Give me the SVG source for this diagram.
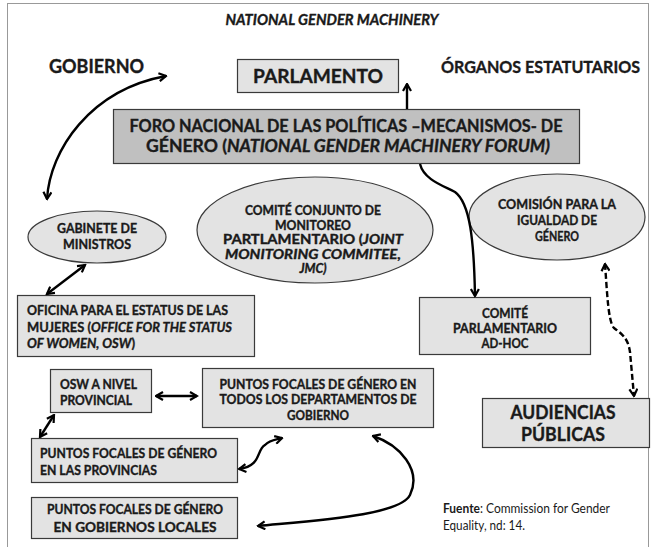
<svg xmlns="http://www.w3.org/2000/svg" width="654" height="547" viewBox="0 0 654 547">
<defs>
<marker id="ah" viewBox="0 0 10 10" refX="8.5" refY="5" markerWidth="10" markerHeight="10" markerUnits="userSpaceOnUse" orient="auto-start-reverse">
<path d="M1.5,1 L8.5,5 L1.5,9" fill="none" stroke="#000" stroke-width="2.2" stroke-linejoin="miter"/>
</marker>
<style>
.t{font-family:Lato,"Liberation Sans",sans-serif;font-weight:bold;fill:#1a1a1a;stroke:#1a1a1a;stroke-width:0.35}
.m{text-anchor:middle}
.i{font-style:italic}
.box{fill:#e3e3e3;stroke:#3a3a3a;stroke-width:1.2}
.dark{fill:#c0c0c0;stroke:#3a3a3a;stroke-width:1.2}
.c{fill:none;stroke:#000;stroke-width:2.4;marker-end:url(#ah)}
.d{marker-start:url(#ah)}
.f{font-family:Lato,"Liberation Sans",sans-serif;fill:#1a1a1a;font-size:13px}
</style>
</defs>
<rect x="7.5" y="3.5" width="641" height="570" fill="#fff" stroke="#999" stroke-width="1"/>
<text class="t m i" x="332" y="25" font-size="15" textLength="213" lengthAdjust="spacingAndGlyphs">NATIONAL GENDER MACHINERY</text>
<text class="t" x="49" y="73" font-size="18.5" textLength="95" lengthAdjust="spacingAndGlyphs">GOBIERNO</text>
<text class="t" x="441" y="73" font-size="17" textLength="199" lengthAdjust="spacingAndGlyphs">ÓRGANOS ESTATUTARIOS</text>
<g id="parlamento"><rect class="box" x="237.5" y="59.5" width="161" height="33"/><text class="t m" x="318" y="83" font-size="18.5" textLength="130" lengthAdjust="spacingAndGlyphs">PARLAMENTO</text></g>
<g id="foro"><rect class="dark" x="113.5" y="109.5" width="466" height="54"/>
<text class="t m" x="346" y="132" font-size="16.5" textLength="433" lengthAdjust="spacingAndGlyphs">FORO NACIONAL DE LAS POLÍTICAS –MECANISMOS- DE</text>
<text class="t" x="146" y="152" font-size="16.5" textLength="404" lengthAdjust="spacingAndGlyphs">GÉNERO (<tspan class="i">NATIONAL GENDER MACHINERY FORUM)</tspan></text></g>
<g id="gabinete"><ellipse class="box" cx="97" cy="237" rx="69" ry="26"/>
<text class="t m" x="97" y="233" font-size="13" textLength="80" lengthAdjust="spacingAndGlyphs">GABINETE DE</text>
<text class="t m" x="97" y="249" font-size="13" textLength="68" lengthAdjust="spacingAndGlyphs">MINISTROS</text></g>
<g id="jmc"><ellipse class="box" cx="315" cy="230" rx="118" ry="53"/>
<text class="t m" x="313" y="215" font-size="12.5" textLength="136" lengthAdjust="spacingAndGlyphs">COMITÉ CONJUNTO DE</text>
<text class="t m" x="313" y="230" font-size="12.5" textLength="76" lengthAdjust="spacingAndGlyphs">MONITOREO</text>
<text class="t m" x="313" y="244" font-size="12.5" textLength="180" lengthAdjust="spacingAndGlyphs">PARTLAMENTARIO (<tspan class="i">JOINT</tspan></text>
<text class="t m i" x="313" y="259" font-size="12.5" textLength="176" lengthAdjust="spacingAndGlyphs">MONITORING COMMITEE,</text>
<text class="t m i" x="313" y="273" font-size="12.5">JMC)</text></g>
<g id="comision"><ellipse class="box" cx="557" cy="217" rx="88" ry="43"/>
<text class="t m" x="557" y="209" font-size="13" textLength="118" lengthAdjust="spacingAndGlyphs">COMISIÓN PARA LA</text>
<text class="t m" x="557" y="225" font-size="13" textLength="80" lengthAdjust="spacingAndGlyphs">IGUALDAD DE</text>
<text class="t m" x="557" y="241" font-size="13" textLength="44" lengthAdjust="spacingAndGlyphs">GÉNERO</text></g>
<g id="comite-adhoc"><rect class="box" x="419.5" y="297.5" width="171" height="57"/>
<text class="t m" x="505" y="318" font-size="13" textLength="46" lengthAdjust="spacingAndGlyphs">COMITÉ</text>
<text class="t m" x="505" y="333" font-size="13" textLength="104" lengthAdjust="spacingAndGlyphs">PARLAMENTARIO</text>
<text class="t m" x="505" y="348" font-size="13" textLength="47" lengthAdjust="spacingAndGlyphs">AD-HOC</text></g>
<g id="audiencias"><rect class="box" x="482.5" y="398.5" width="167" height="49"/>
<text class="t m" x="563" y="419" font-size="18.5" textLength="105" lengthAdjust="spacingAndGlyphs">AUDIENCIAS</text>
<text class="t m" x="563" y="441" font-size="18.5" textLength="84" lengthAdjust="spacingAndGlyphs">PÚBLICAS</text></g>
<g id="oficina"><rect class="box" x="17.5" y="295.5" width="237" height="61"/>
<text class="t" x="27" y="315" font-size="13" textLength="201" lengthAdjust="spacingAndGlyphs">OFICINA PARA EL ESTATUS DE LAS</text>
<text class="t" x="27" y="332" font-size="13" textLength="205" lengthAdjust="spacingAndGlyphs">MUJERES (<tspan class="i">OFFICE FOR THE STATUS</tspan></text>
<text class="t" x="27" y="348" font-size="13" textLength="108" lengthAdjust="spacingAndGlyphs"><tspan class="i">OF WOMEN, OSW</tspan>)</text></g>
<g id="osw-provincial"><rect class="box" x="50.5" y="369.5" width="101" height="43"/>
<text class="t" x="60" y="389" font-size="13" textLength="77" lengthAdjust="spacingAndGlyphs">OSW A NIVEL</text>
<text class="t" x="60" y="405" font-size="13" textLength="72" lengthAdjust="spacingAndGlyphs">PROVINCIAL</text></g>
<g id="pf-departamentos"><rect class="box" x="202.5" y="368.5" width="231" height="59"/>
<text class="t m" x="318" y="389" font-size="12.5" textLength="197" lengthAdjust="spacingAndGlyphs">PUNTOS FOCALES DE GÉNERO EN</text>
<text class="t m" x="318" y="404" font-size="12.5" textLength="197" lengthAdjust="spacingAndGlyphs">TODOS LOS DEPARTAMENTOS DE</text>
<text class="t m" x="318" y="420" font-size="12.5" textLength="62" lengthAdjust="spacingAndGlyphs">GOBIERNO</text></g>
<g id="pf-provincias"><rect class="box" x="31.5" y="438.5" width="206" height="44"/>
<text class="t" x="40" y="458" font-size="13" textLength="177" lengthAdjust="spacingAndGlyphs">PUNTOS FOCALES DE GÉNERO</text>
<text class="t" x="40" y="475" font-size="13" textLength="117" lengthAdjust="spacingAndGlyphs">EN LAS PROVINCIAS</text></g>
<g id="pf-locales"><rect class="box" x="31.5" y="497.5" width="206" height="41"/>
<text class="t m" x="135" y="514" font-size="13" textLength="176" lengthAdjust="spacingAndGlyphs">PUNTOS FOCALES DE GÉNERO</text>
<text class="t m" x="135" y="532" font-size="13" textLength="163" lengthAdjust="spacingAndGlyphs">EN GOBIERNOS LOCALES</text></g>
<g id="fuente"><text class="f" x="443" y="513" textLength="167" lengthAdjust="spacingAndGlyphs"><tspan font-weight="bold">Fuente</tspan>: Commission for Gender</text>
<text class="f" x="443" y="530" textLength="82" lengthAdjust="spacingAndGlyphs">Equality, nd: 14.</text></g>
<g id="connectors">
<path class="c d" d="M47,199 C50,150 90,90 166,76"/>
<path class="c" d="M407,109 L407,84"/>
<path class="c" d="M420,164 C424,180 444,186 455,192 C470,203 474,240 475,296"/>
<path class="c d" d="M85,265 L47,294"/>
<path class="c d" style="stroke-dasharray:6,3" d="M605,264 C607,290 608,322 614,328 C622,334 628,338 630,352 L634,396"/>
<path class="c d" d="M156,396 L197,396"/>
<path class="c d" d="M54,415 L40,437"/>
<path class="c d" d="M239,469 C262,466 256,450 265,445 C270,440 275,440 282,438"/>
<path class="c d" d="M373,436 C400,445 422,470 410,495 C400,515 320,520 258,526"/>
</g>
</svg>
